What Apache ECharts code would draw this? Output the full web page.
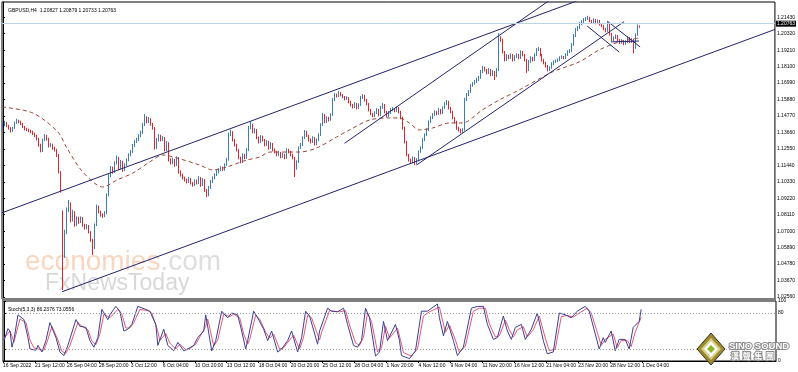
<!DOCTYPE html>
<html><head><meta charset="utf-8">
<script src="https://cdn.jsdelivr.net/npm/echarts@6/dist/echarts.min.js"></script>
<style>html,body{margin:0;padding:0;background:#fff}#c{width:798px;height:372px}</style>
</head><body><div id="c"></div>
<script>
// ---- data ----
const open = [
1.1400,1.1416,1.1430,1.1410,1.1396,1.1376,1.1396,1.1430,1.1443,1.1437,
1.1423,1.1403,1.1389,1.1383,1.1376,1.1369,1.1356,1.1342,1.1322,1.1281,
1.1241,1.1315,1.1342,1.1322,1.1275,1.1281,1.1261,1.1248,1.1214,1.1099,
1.0829,1.0539,1.0694,1.0843,1.0890,1.0775,1.0829,1.0741,1.0789,1.0762,
1.0789,1.0741,1.0721,1.0735,1.0694,1.0640,1.0586,1.0741,1.0863,1.0829,
1.0809,1.0802,1.0822,1.0944,1.1072,1.1126,1.1099,1.1160,1.1194,1.1126,
1.1167,1.1113,1.1146,1.1180,1.1214,1.1234,1.1275,1.1302,1.1315,1.1342,
1.1362,1.1416,1.1464,1.1437,1.1457,1.1423,1.1396,1.1261,1.1315,1.1342,
1.1315,1.1329,1.1248,1.1295,1.1180,1.1160,1.1180,1.1146,1.1194,1.1099,
1.1079,1.1059,1.1045,1.1032,1.1052,1.1025,1.1011,1.1038,1.1025,1.1059,
1.1011,1.1045,1.0978,1.0944,1.0991,1.1032,1.1059,1.1079,1.1099,1.1113,
1.1126,1.1113,1.1146,1.1180,1.1349,1.1369,1.1315,1.1281,1.1248,1.1194,
1.1167,1.1214,1.1194,1.1248,1.1396,1.1416,1.1369,1.1383,1.1329,1.1302,
1.1335,1.1315,1.1281,1.1302,1.1261,1.1288,1.1248,1.1234,1.1214,1.1227,
1.1200,1.1214,1.1194,1.1248,1.1234,1.1214,1.1194,1.1126,1.1167,1.1261,
1.1281,1.1329,1.1369,1.1342,1.1315,1.1302,1.1329,1.1288,1.1315,1.1349,
1.1416,1.1484,1.1437,1.1464,1.1450,1.1484,1.1585,1.1619,1.1612,1.1632,
1.1619,1.1605,1.1592,1.1599,1.1572,1.1551,1.1538,1.1558,1.1531,1.1551,
1.1599,1.1612,1.1585,1.1558,1.1518,1.1491,1.1477,1.1497,1.1518,1.1484,
1.1531,1.1551,1.1504,1.1477,1.1497,1.1518,1.1524,1.1511,1.1531,1.1504,
1.1464,1.1396,1.1302,1.1214,1.1180,1.1167,1.1194,1.1160,1.1180,1.1234,
1.1261,1.1315,1.1349,1.1383,1.1437,1.1464,1.1484,1.1504,1.1491,1.1518,
1.1497,1.1531,1.1558,1.1572,1.1531,1.1504,1.1464,1.1437,1.1396,1.1383,
1.1369,1.1383,1.1585,1.1619,1.1639,1.1680,1.1693,1.1707,1.1720,1.1734,
1.1774,1.1801,1.1788,1.1767,1.1788,1.1754,1.1774,1.1747,1.1788,1.2004,
1.1990,1.1909,1.1855,1.1882,1.1869,1.1889,1.1855,1.1875,1.1889,1.1869,
1.1909,1.1889,1.1855,1.1788,1.1842,1.1869,1.1855,1.1889,1.1923,1.1929,
1.1889,1.1855,1.1835,1.1815,1.1788,1.1801,1.1828,1.1842,1.1848,1.1855,
1.1869,1.1875,1.1869,1.1889,1.1909,1.1916,1.1956,1.2017,1.2058,1.2071,
1.2098,1.2112,1.2125,1.2132,1.2139,1.2118,1.2112,1.2125,1.2105,1.2118,
1.2098,1.2085,1.2064,1.2051,1.2098,1.2031,1.1990,1.2004,1.2017,1.1990,
1.1970,1.1983,1.1963,1.1977,1.2004,1.1977,1.1990,1.1936,1.2024,1.20827];
const close = [
1.1416,1.1430,1.1410,1.1396,1.1376,1.1396,1.1430,1.1443,1.1437,1.1423,
1.1403,1.1389,1.1383,1.1376,1.1369,1.1356,1.1342,1.1322,1.1281,1.1241,
1.1315,1.1342,1.1322,1.1275,1.1281,1.1261,1.1248,1.1214,1.1099,1.0978,
1.0539,1.0694,1.0843,1.0890,1.0775,1.0829,1.0741,1.0789,1.0762,1.0789,
1.0741,1.0721,1.0735,1.0694,1.0640,1.0586,1.0741,1.0863,1.0829,1.0809,
1.0802,1.0822,1.0944,1.1072,1.1126,1.1099,1.1160,1.1194,1.1126,1.1167,
1.1113,1.1146,1.1180,1.1214,1.1234,1.1275,1.1302,1.1315,1.1342,1.1362,
1.1416,1.1464,1.1437,1.1457,1.1423,1.1396,1.1261,1.1315,1.1342,1.1315,
1.1329,1.1248,1.1295,1.1180,1.1160,1.1180,1.1146,1.1194,1.1099,1.1079,
1.1059,1.1045,1.1032,1.1052,1.1025,1.1011,1.1038,1.1025,1.1059,1.1011,
1.1045,1.0978,1.0944,1.0991,1.1032,1.1059,1.1079,1.1099,1.1113,1.1126,
1.1113,1.1146,1.1180,1.1349,1.1369,1.1315,1.1281,1.1248,1.1194,1.1167,
1.1214,1.1194,1.1248,1.1396,1.1416,1.1369,1.1383,1.1329,1.1302,1.1335,
1.1315,1.1281,1.1302,1.1261,1.1288,1.1248,1.1234,1.1214,1.1227,1.1200,
1.1214,1.1194,1.1248,1.1234,1.1214,1.1194,1.1126,1.1167,1.1261,1.1281,
1.1329,1.1369,1.1342,1.1315,1.1302,1.1329,1.1288,1.1315,1.1349,1.1416,
1.1484,1.1437,1.1464,1.1450,1.1484,1.1585,1.1619,1.1612,1.1632,1.1619,
1.1605,1.1592,1.1599,1.1572,1.1551,1.1538,1.1558,1.1531,1.1551,1.1599,
1.1612,1.1585,1.1558,1.1518,1.1491,1.1477,1.1497,1.1518,1.1484,1.1531,
1.1551,1.1504,1.1477,1.1497,1.1518,1.1524,1.1511,1.1531,1.1504,1.1464,
1.1396,1.1302,1.1214,1.1180,1.1167,1.1194,1.1160,1.1180,1.1234,1.1261,
1.1315,1.1349,1.1383,1.1437,1.1464,1.1484,1.1504,1.1491,1.1518,1.1497,
1.1531,1.1558,1.1572,1.1531,1.1504,1.1464,1.1437,1.1396,1.1383,1.1369,
1.1383,1.1585,1.1619,1.1639,1.1680,1.1693,1.1707,1.1720,1.1734,1.1774,
1.1801,1.1788,1.1767,1.1788,1.1754,1.1774,1.1747,1.1788,1.2004,1.1990,
1.1909,1.1855,1.1882,1.1869,1.1889,1.1855,1.1875,1.1889,1.1869,1.1909,
1.1889,1.1855,1.1788,1.1842,1.1869,1.1855,1.1889,1.1923,1.1929,1.1889,
1.1855,1.1835,1.1815,1.1788,1.1801,1.1828,1.1842,1.1848,1.1855,1.1869,
1.1875,1.1869,1.1889,1.1909,1.1916,1.1956,1.2017,1.2058,1.2071,1.2098,
1.2112,1.2125,1.2132,1.2139,1.2118,1.2112,1.2125,1.2105,1.2118,1.2098,
1.2085,1.2064,1.2051,1.2098,1.2031,1.1990,1.2004,1.2017,1.1990,1.1970,
1.1983,1.1963,1.1977,1.2004,1.1977,1.1990,1.1936,1.2024,1.20827,1.20763];
const high = [
1.1432,1.1445,1.1438,1.1418,1.1402,1.1405,1.1440,1.1458,1.1452,1.1445,
1.1430,1.1410,1.1398,1.1392,1.1385,1.1378,1.1365,1.1350,1.1330,1.1290,
1.1325,1.1355,1.1350,1.1330,1.1295,1.1290,1.1270,1.1255,1.1220,1.1105,
1.0840,1.0710,1.0860,1.0910,1.0895,1.0845,1.0835,1.0800,1.0798,1.0800,
1.0795,1.0750,1.0748,1.0742,1.0700,1.0648,1.0752,1.0880,1.0872,1.0838,
1.0820,1.0835,1.0955,1.1085,1.1140,1.1135,1.1172,1.1210,1.1200,1.1180,
1.1175,1.1158,1.1192,1.1225,1.1248,1.1288,1.1315,1.1330,1.1355,1.1378,
1.1430,1.1490,1.1475,1.1470,1.1462,1.1430,1.1402,1.1328,1.1355,1.1350,
1.1342,1.1335,1.1308,1.1300,1.1192,1.1195,1.1188,1.1205,1.1200,1.1110,
1.1088,1.1068,1.1055,1.1065,1.1060,1.1032,1.1050,1.1048,1.1072,1.1065,
1.1058,1.1052,1.0985,1.1005,1.1045,1.1070,1.1090,1.1112,1.1125,1.1138,
1.1135,1.1158,1.1195,1.1365,1.1385,1.1375,1.1322,1.1290,1.1255,1.1202,
1.1225,1.1222,1.1260,1.1410,1.1440,1.1425,1.1395,1.1390,1.1338,1.1348,
1.1345,1.1322,1.1315,1.1310,1.1300,1.1295,1.1258,1.1242,1.1240,1.1235,
1.1228,1.1222,1.1260,1.1256,1.1242,1.1222,1.1200,1.1178,1.1272,1.1295,
1.1340,1.1382,1.1378,1.1350,1.1325,1.1340,1.1335,1.1325,1.1360,1.1428,
1.1498,1.1490,1.1475,1.1472,1.1495,1.1598,1.1632,1.1628,1.1645,1.1640,
1.1626,1.1612,1.1610,1.1605,1.1580,1.1558,1.1570,1.1565,1.1562,1.1612,
1.1625,1.1620,1.1592,1.1565,1.1525,1.1498,1.1510,1.1530,1.1525,1.1545,
1.1565,1.1558,1.1512,1.1510,1.1530,1.1536,1.1532,1.1542,1.1538,1.1512,
1.1472,1.1405,1.1310,1.1222,1.1190,1.1205,1.1200,1.1192,1.1245,1.1272,
1.1328,1.1360,1.1395,1.1448,1.1476,1.1496,1.1516,1.1512,1.1530,1.1525,
1.1542,1.1570,1.1585,1.1580,1.1538,1.1512,1.1470,1.1445,1.1405,1.1392,
1.1395,1.1600,1.1632,1.1652,1.1692,1.1706,1.1720,1.1734,1.1748,1.1788,
1.1815,1.1810,1.1795,1.1800,1.1795,1.1786,1.1780,1.1800,1.2035,1.2015,
1.1998,1.1915,1.1895,1.1890,1.1900,1.1895,1.1888,1.1900,1.1896,1.1920,
1.1916,1.1896,1.1862,1.1855,1.1880,1.1876,1.1900,1.1935,1.1942,1.1935,
1.1896,1.1862,1.1842,1.1822,1.1812,1.1840,1.1852,1.1858,1.1865,1.1880,
1.1886,1.1882,1.1900,1.1920,1.1928,1.1968,1.2030,1.2070,1.2084,1.2110,
1.2124,1.2138,1.2145,1.2153,1.2146,1.2126,1.2136,1.2132,1.2128,1.2125,
1.2105,1.2092,1.2072,1.2112,1.2104,1.2038,1.2015,1.2028,1.2024,1.1998,
1.1995,1.1990,1.1988,1.2015,1.2010,1.2002,1.1998,1.2035,1.2095,1.20879];
const low = [
1.1392,1.1408,1.1402,1.1385,1.1365,1.1370,1.1390,1.1425,1.1428,1.1415,
1.1395,1.1380,1.1375,1.1368,1.1360,1.1348,1.1335,1.1312,1.1270,1.1232,
1.1235,1.1308,1.1312,1.1265,1.1268,1.1250,1.1238,1.1200,1.1090,1.0960,
1.0303,1.0520,1.0680,1.0830,1.0760,1.0765,1.0730,1.0735,1.0750,1.0755,
1.0730,1.0710,1.0712,1.0685,1.0628,1.0540,1.0580,1.0735,1.0820,1.0798,
1.0790,1.0795,1.0815,1.0935,1.1065,1.1088,1.1092,1.1150,1.1115,1.1118,
1.1100,1.1105,1.1140,1.1172,1.1205,1.1228,1.1268,1.1295,1.1308,1.1335,
1.1355,1.1410,1.1428,1.1430,1.1412,1.1385,1.1250,1.1255,1.1305,1.1305,
1.1308,1.1238,1.1240,1.1170,1.1150,1.1152,1.1135,1.1140,1.1088,1.1068,
1.1048,1.1035,1.1022,1.1025,1.1015,1.1000,1.1005,1.1015,1.1018,1.1000,
1.1005,1.0965,1.0930,1.0935,1.0985,1.1025,1.1050,1.1072,1.1090,1.1105,
1.1105,1.1108,1.1140,1.1175,1.1340,1.1305,1.1272,1.1238,1.1185,1.1158,
1.1160,1.1185,1.1188,1.1240,1.1388,1.1360,1.1360,1.1320,1.1292,1.1295,
1.1305,1.1272,1.1275,1.1250,1.1255,1.1238,1.1225,1.1205,1.1208,1.1192,
1.1195,1.1185,1.1188,1.1225,1.1205,1.1185,1.1065,1.1115,1.1160,1.1255,
1.1275,1.1322,1.1335,1.1305,1.1292,1.1295,1.1278,1.1280,1.1308,1.1342,
1.1410,1.1428,1.1430,1.1440,1.1445,1.1478,1.1578,1.1602,1.1605,1.1610,
1.1598,1.1582,1.1585,1.1562,1.1542,1.1528,1.1530,1.1522,1.1525,1.1545,
1.1592,1.1575,1.1550,1.1508,1.1482,1.1468,1.1470,1.1490,1.1475,1.1478,
1.1525,1.1495,1.1468,1.1470,1.1490,1.1510,1.1502,1.1505,1.1495,1.1455,
1.1385,1.1292,1.1205,1.1170,1.1155,1.1158,1.1146,1.1152,1.1172,1.1228,
1.1255,1.1308,1.1342,1.1375,1.1430,1.1456,1.1478,1.1482,1.1485,1.1488,
1.1490,1.1525,1.1550,1.1522,1.1495,1.1455,1.1428,1.1385,1.1372,1.1360,
1.1362,1.1378,1.1578,1.1612,1.1632,1.1675,1.1688,1.1700,1.1712,1.1728,
1.1765,1.1778,1.1758,1.1760,1.1745,1.1746,1.1720,1.1740,1.1780,1.1978,
1.1900,1.1845,1.1848,1.1860,1.1862,1.1845,1.1848,1.1868,1.1860,1.1862,
1.1880,1.1845,1.1768,1.1780,1.1835,1.1846,1.1848,1.1882,1.1915,1.1880,
1.1845,1.1826,1.1805,1.1778,1.1780,1.1795,1.1820,1.1835,1.1840,1.1848,
1.1862,1.1860,1.1862,1.1882,1.1902,1.1908,1.1950,1.2010,1.2050,1.2064,
1.2090,1.2105,1.2118,1.2125,1.2110,1.2102,1.2105,1.2096,1.2098,1.2088,
1.2076,1.2055,1.2042,1.2045,1.2020,1.1980,1.1982,1.1996,1.1980,1.1962,
1.1965,1.1955,1.1958,1.1970,1.1968,1.1970,1.1900,1.1930,1.2018,1.20733];

// moving average (dashed) read at bar positions: [bar, price]
const maLine = [[-0.5,1.1538],[15,1.1497],[27.5,1.1369],[32,1.1261],[40,1.1099],[50,1.0998],[57,1.1045],[65,1.1092],[73.5,1.1167],[80,1.1214],[87,1.1194],[98.5,1.1146],[105,1.1113],[112,1.1133],[122,1.1180],[128.5,1.1200],[133.5,1.1234],[148.5,1.1234],[157,1.1261],[167,1.1335],[173.5,1.1383],[183.5,1.1450],[193.5,1.1464],[198.5,1.1464],[203.5,1.1430],[208.5,1.1383],[215,1.1396],[223.5,1.1430],[230,1.1430],[240,1.1518],[248.5,1.1585],[258.5,1.1653],[275,1.1774],[288.5,1.1842],[298.5,1.1923],[308.5,1.1977],[318.5,1.2004]];

// drawn trend lines: pairs of [bar, price]
const trendLines = [
  [[-0.5,1.0824],[293.5,1.2284]],
  [[29.5,1.0291],[386.5,1.2061]],
  [[171,1.1293],[274,1.2261]],
  [[207,1.1146],[311,1.2114]],
  [[292.5,1.2084],[308.5,1.1909]],
  [[302.5,1.2118],[319,1.1943]],
  [[304.5,1.1977],[318.5,1.1983]]
];

// Stochastic(5,3,3): [bar, value]
const stochK = [[0,34],[2,54],[3,50],[4,23],[5,36],[7,77],[10,69],[12,39],[13,20],[16,18],[17,26],[19,15],[21,34],[23,64],[26,39],[28,15],[30,9],[32,26],[36,69],[38,58],[41,56],[43,34],[45,23],[47,39],[49,86],[52,69],[53,77],[56,91],[58,83],[60,50],[62,53],[64,61],[67,91],[71,86],[73,83],[76,61],[77,26],[80,53],[82,26],[85,17],[87,31],[90,17],[92,20],[95,26],[97,39],[100,50],[101,77],[104,17],[106,34],[109,83],[112,72],[114,80],[117,77],[119,50],[121,20],[122,34],[125,83],[127,72],[130,53],[132,34],[134,50],[137,15],[139,20],[142,34],[144,50],[147,15],[149,39],[151,83],[153,75],[157,28],[158,50],[162,88],[164,83],[167,82],[170,88],[172,61],[175,26],[177,23],[179,34],[181,88],[183,72],[186,8],[188,15],[190,66],[192,34],[196,61],[198,34],[199,9],[203,4],[206,17],[209,83],[212,83],[217,95],[218,72],[220,42],[222,66],[225,34],[227,9],[230,23],[234,88],[237,91],[240,91],[242,61],[245,36],[247,39],[250,75],[252,50],[254,36],[256,56],[259,61],[261,36],[264,53],[267,80],[270,34],[272,12],[275,15],[278,80],[281,77],[284,72],[287,83],[291,91],[293,83],[296,45],[298,20],[300,39],[301,31],[304,50],[306,17],[308,36],[311,36],[313,20],[315,56],[318,66],[319,86.2376]];
const stochD = [[0,38],[3,50],[5,32],[6,34],[8,70],[11,64],[13,35],[15,22],[17,20],[18,23],[20,18],[22,36],[24,58],[27,35],[29,16],[31,13],[33,26],[37,64],[39,58],[42,52],[44,33],[46,27],[48,45],[50,78],[53,72],[57,86],[59,78],[61,55],[63,55],[65,64],[68,86],[72,84],[74,80],[77,50],[78,34],[81,46],[83,30],[86,20],[88,28],[91,19],[93,21],[96,28],[98,40],[101,58],[102,70],[105,25],[107,35],[110,78],[113,74],[115,78],[118,72],[120,45],[122,28],[123,36],[126,76],[128,70],[131,48],[133,38],[135,45],[138,20],[140,22],[143,35],[145,43],[148,20],[150,40],[152,76],[154,72],[158,35],[159,48],[163,84],[165,83],[168,82],[171,84],[173,60],[176,30],[178,26],[180,40],[182,80],[184,66],[187,15],[189,22],[191,58],[193,38],[197,55],[199,28],[200,14],[204,8],[207,20],[210,75],[213,82],[218,90],[219,75],[221,48],[223,60],[226,35],[228,14],[231,25],[235,83],[238,88],[241,88],[243,62],[246,40],[248,42],[251,68],[253,52],[255,40],[257,52],[260,57],[262,40],[265,52],[268,75],[271,38],[273,17],[276,20],[279,74],[282,76],[285,73],[288,80],[292,88],[294,80],[297,48],[299,26],[301,36],[302,33],[305,45],[307,22],[309,34],[312,34],[314,24],[316,48],[319,73.0556]];

// axis tick labels
const priceTicks = [1.0256,1.0367,1.0478,1.0589,1.0700,1.0811,1.0922,1.1033,1.1144,1.1255,1.1366,1.1477,1.1588,1.1699,1.1810,1.1921,1.2032,1.2143];
const stochTicks = [0,20,80,100];
const dateTickBars = [0,16,32,48,64,80,96,112,128,144,160,176,192,208,224,240,256,272,288,304,320];
const dateTickText = ['16 Sep 2022','21 Sep 12:00','26 Sep 04:00','28 Sep 20:00','3 Oct 12:00','6 Oct 04:00','10 Oct 20:00','13 Oct 12:00','18 Oct 04:00','20 Oct 20:00','25 Oct 12:00','28 Oct 04:00','1 Nov 20:00','4 Nov 12:00','9 Nov 04:00','11 Nov 20:00','16 Nov 12:00','21 Nov 04:00','23 Nov 20:00','28 Nov 12:00','1 Dec 04:00'];
const lastPrice = 1.20763;
const titleText = 'GBPUSD,H4  1.20827 1.20879 1.20733 1.20763';
const stochText = 'Stoch(5,3,3) 86.2376 73.0556';

// ---- chart ----
const SLOTS = 387;
const slots = Array.from({length: SLOTS}, (_, i) => i);
const candles = close.map((c, i) => [open[i], c, low[i], high[i]]);
const dateTickVals = dateTickBars.map(b => b - 0.5);
const dateMap = {};
dateTickVals.forEach((v, k) => dateMap[v] = dateTickText[k]);

const FONT = "'Liberation Sans', Arial, sans-serif";
const UP = '#3a7bb8', DOWN = '#e3222b', LINE = '#22226e';

const chart = echarts.init(document.getElementById('c'), null, {renderer: 'canvas'});
const lineSeries = trendLines.map(seg => ({
  type: 'line', xAxisIndex: 1, yAxisIndex: 0, data: seg, symbol: 'none', clip: true,
  lineStyle: {color: LINE, width: 1}, silent: true, z: 4, animation: false
}));

chart.setOption({
  animation: false,
  textStyle: {fontFamily: FONT},
  title: [
    {text: titleText, left: 3, top: 3, textStyle: {fontSize: 5, fontWeight: 'normal', color: '#000', fontFamily: FONT}},
    {text: stochText, left: 3, top: 302, textStyle: {fontSize: 5, fontWeight: 'normal', color: '#000', fontFamily: FONT}}
  ],
  grid: [
    {left: 2, top: 2, width: 774, height: 297, show: true, borderColor: '#000', borderWidth: 1},
    {left: 2, top: 301, width: 774, height: 60, show: true, borderColor: '#000', borderWidth: 1}
  ],
  xAxis: [
    {type: 'category', gridIndex: 0, data: slots, boundaryGap: true, show: false},
    {type: 'value', gridIndex: 0, min: -0.5, max: SLOTS - 0.5, show: false},
    {type: 'value', gridIndex: 1, min: -0.5, max: SLOTS - 0.5, position: 'bottom',
      axisLine: {show: true, lineStyle: {color: '#000', width: 1}},
      axisTick: {show: true, customValues: dateTickVals, length: 2, lineStyle: {color: '#000'}},
      axisLabel: {show: true, customValues: dateTickVals, formatter: v => dateMap[v] || '', align: 'left', fontSize: 5, color: '#000', margin: 2, fontFamily: FONT, showMinLabel: true, showMaxLabel: true},
      splitLine: {show: false}}
  ],
  yAxis: [
    {type: 'value', gridIndex: 0, min: 1.02425, max: 1.22462, position: 'right', scale: true,
      axisLine: {show: true, lineStyle: {color: '#000', width: 1}},
      axisTick: {show: true, customValues: priceTicks, length: 2, lineStyle: {color: '#000'}},
      axisLabel: {show: true, customValues: priceTicks, formatter: v => v.toFixed(5), fontSize: 5, color: '#000', margin: 2, fontFamily: FONT},
      splitLine: {show: false}},
    {type: 'value', gridIndex: 1, min: 0, max: 100, position: 'right',
      axisLine: {show: true, lineStyle: {color: '#000', width: 1}},
      axisTick: {show: true, customValues: stochTicks, length: 2, lineStyle: {color: '#000'}},
      axisLabel: {show: true, customValues: stochTicks, fontSize: 5, color: '#000', margin: 2, fontFamily: FONT},
      splitLine: {show: false}}
  ],
  series: [
    {type: 'candlestick', xAxisIndex: 0, yAxisIndex: 0, data: candles, barWidth: 1.3, z: 3,
      itemStyle: {color: UP, color0: DOWN, borderColor: UP, borderColor0: DOWN, borderWidth: 1},
      markLine: {silent: true, symbol: 'none', animation: false,
        data: [{yAxis: lastPrice}],
        lineStyle: {color: '#bcd3e3', width: 1, type: 'solid'},
        label: {show: true, position: 'end', formatter: lastPrice.toFixed(5), backgroundColor: '#000', color: '#fff', fontSize: 5, padding: [1, 1, 0, 1], distance: 1, fontFamily: FONT}}},
    {type: 'line', xAxisIndex: 1, yAxisIndex: 0, data: maLine, symbol: 'none', smooth: 0.3, z: 4,
      lineStyle: {color: '#9c4434', width: 1, type: [4, 3]}, silent: true},
    ...lineSeries,
    {type: 'line', xAxisIndex: 2, yAxisIndex: 1, data: stochD, symbol: 'none', z: 3,
      lineStyle: {color: '#e0587c', width: 1}, silent: true,
      markLine: {silent: true, symbol: 'none', animation: false, data: [{yAxis: 80}, {yAxis: 20}],
        lineStyle: {color: '#9a9a9a', width: 1, type: [1, 2]}, label: {show: false}}},
    {type: 'line', xAxisIndex: 2, yAxisIndex: 1, data: stochK, symbol: 'none', z: 4,
      lineStyle: {color: '#3e3e92', width: 1}, silent: true}
  ],
  graphic: [
    {type: 'text', z: -5, silent: true, style: {x: 25, y: 276, text: '{a|economies}{b|.com}', textVerticalAlign: 'bottom',
      rich: {a: {fontSize: 28, fontFamily: FONT, fill: '#f8d6bf', color: '#f8d6bf'}, b: {fontSize: 28, fontFamily: FONT, fill: '#dedede', color: '#dedede'}}}},
    {type: 'text', z: -5, silent: true, style: {x: 45, y: 295, text: 'FxNewsToday', textVerticalAlign: 'bottom', font: '23px ' + FONT, fill: '#d8d8d8'}},
    {type: 'rect', z: 50, silent: true, shape: {x: 2, y: 298, width: 774, height: 3}, style: {fill: '#7c7c7c'}},
    {type: 'polygon', z: 100, silent: true, shape: {points: [[711, 333], [725, 349], [711, 365], [697, 349]]}, style: {fill: '#9c8a2a', stroke: '#333', lineWidth: 1}},
    {type: 'polygon', z: 101, silent: true, shape: {points: [[711, 338], [721, 349], [711, 360], [701, 349]]}, style: {fill: '#d8cf8a'}},
    {type: 'polygon', z: 102, silent: true, shape: {points: [[711, 341], [718, 349], [711, 357], [704, 349]]}, style: {fill: '#ffffff'}},
    {type: 'polygon', z: 103, silent: true, shape: {points: [[711, 345], [715, 349], [711, 353], [707, 349]]}, style: {fill: '#8db32a'}},
    {type: 'text', z: 104, silent: true, style: {x: 729, y: 341, text: 'SINO SOUND', font: 'bold 9.5px ' + FONT, fill: '#ffffff', stroke: '#8a8a8a', lineWidth: 2}},
    {type: 'text', z: 104, silent: true, style: {x: 731, y: 352, text: '漢  聲  集  團', font: 'bold 8px "Noto Sans CJK TC"', fill: '#ffffff', stroke: '#8a8a8a', lineWidth: 2}}
  ]
});
</script>
</body></html>
